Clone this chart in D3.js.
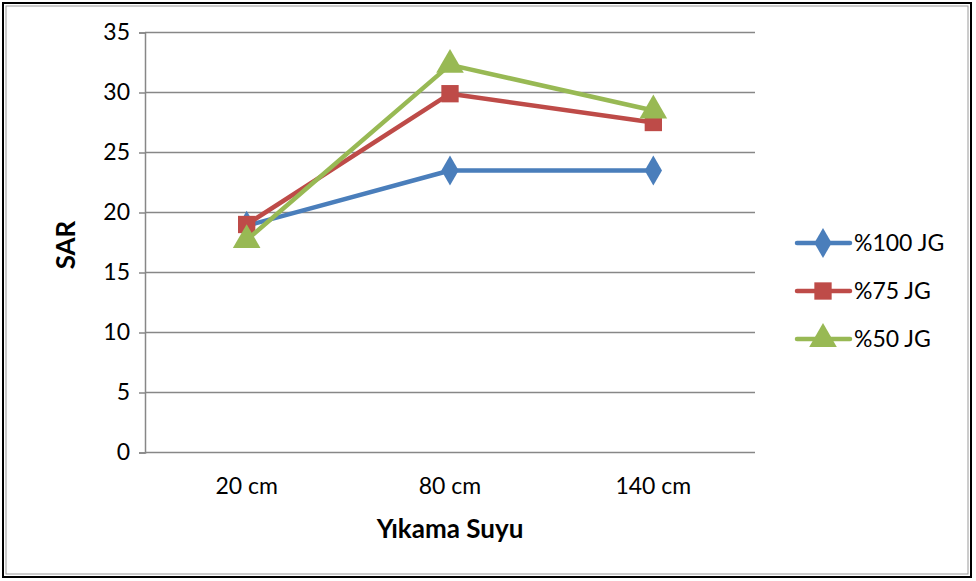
<!DOCTYPE html>
<html><head><meta charset="utf-8">
<script src="https://cdn.jsdelivr.net/npm/d3@7"></script>
<style>body{margin:0;background:#fff}svg{display:block}text{font-family:Lato,"Open Sans",sans-serif}</style>
</head><body><svg id="c" width="976" height="581"></svg>
<script>
const categories = ["20 cm", "80 cm", "140 cm"];
const seriesNames = ["%100 JG", "%75 JG", "%50 JG"];
const s100 = [18.9, 23.5, 23.5];
const s75 = [19.0, 29.9, 27.5];
const s50 = [17.7, 32.3, 28.5];
const yTicks = [0, 5, 10, 15, 20, 25, 30, 35];
const colors = ["#4A7EBB", "#BE4B48", "#98B954"];
const symbols = [d3.symbolDiamond, d3.symbolSquare, d3.symbolTriangle];

const svg = d3.select("#c");
svg.append("rect").attr("x",3).attr("y",3).attr("width",968).attr("height",574)
  .attr("fill","#fff").attr("stroke","#000").attr("stroke-width",2);
svg.append("rect").attr("x",6).attr("y",6).attr("width",962).attr("height",568)
  .attr("fill","none").attr("stroke","#9a9a9a").attr("stroke-width",1);

const L=145, R=755, T=32.5, B=452.5;
const x = d3.scaleBand().domain(categories).range([L,R]);
const y = d3.scaleLinear().domain([0,35]).range([B,T]);

svg.append("g").selectAll("line").data(yTicks).join("line")
  .attr("x1",L).attr("x2",R).attr("y1",d=>y(d)).attr("y2",d=>y(d))
  .attr("stroke","#878787").attr("stroke-width",1.5);

const yAxis = svg.append("g").attr("transform",`translate(${L},0)`)
  .call(d3.axisLeft(y).tickValues(yTicks).tickSize(6).tickPadding(9));
yAxis.select(".domain").attr("stroke","#878787").attr("stroke-width",1.5);
yAxis.selectAll(".tick line").attr("stroke","#878787").attr("stroke-width",1.5);
yAxis.selectAll("text").attr("font-size",23).attr("fill","#000");

const xAxis = svg.append("g").attr("transform",`translate(0,${B})`)
  .call(d3.axisBottom(x).tickSize(0).tickPadding(25));
xAxis.select(".domain").remove();
xAxis.selectAll("text").attr("font-size",23).attr("fill","#000");

svg.append("text").attr("x",450).attr("y",538).attr("text-anchor","middle")
  .attr("font-size",26).attr("font-weight","bold").text("Yıkama Suyu");
svg.append("text").attr("transform","translate(75,245) rotate(-90)").attr("text-anchor","middle")
  .attr("font-size",26).attr("font-weight","bold").text("SAR");

const data = [s100, s75, s50];
const line = d3.line().x((d,i)=>x(categories[i])+x.bandwidth()/2).y(d=>y(d));
const sizes = [260, 300, 330];
data.forEach((s,k)=>{
  svg.append("path").datum(s).attr("d",line).attr("fill","none")
    .attr("stroke",colors[k]).attr("stroke-width",4.5).attr("stroke-linejoin","round");
  svg.append("g").selectAll("path").data(s).join("path")
    .attr("transform",(d,i)=>`translate(${x(categories[i])+x.bandwidth()/2},${y(d)})`)
    .attr("d",d3.symbol().type(symbols[k]).size(sizes[k])).attr("fill",colors[k]);
});

const lg = svg.append("g");
seriesNames.forEach((n,k)=>{
  const yy = 243 + k*48;
  lg.append("line").attr("x1",797).attr("x2",850).attr("y1",yy).attr("y2",yy)
    .attr("stroke",colors[k]).attr("stroke-width",4.5).attr("stroke-linecap","round");
  lg.append("path").attr("transform",`translate(823,${yy})`)
    .attr("d",d3.symbol().type(symbols[k]).size(sizes[k])).attr("fill",colors[k]);
  lg.append("text").attr("x",854).attr("y",yy+8).attr("font-size",23).text(n);
});
</script></body></html>
